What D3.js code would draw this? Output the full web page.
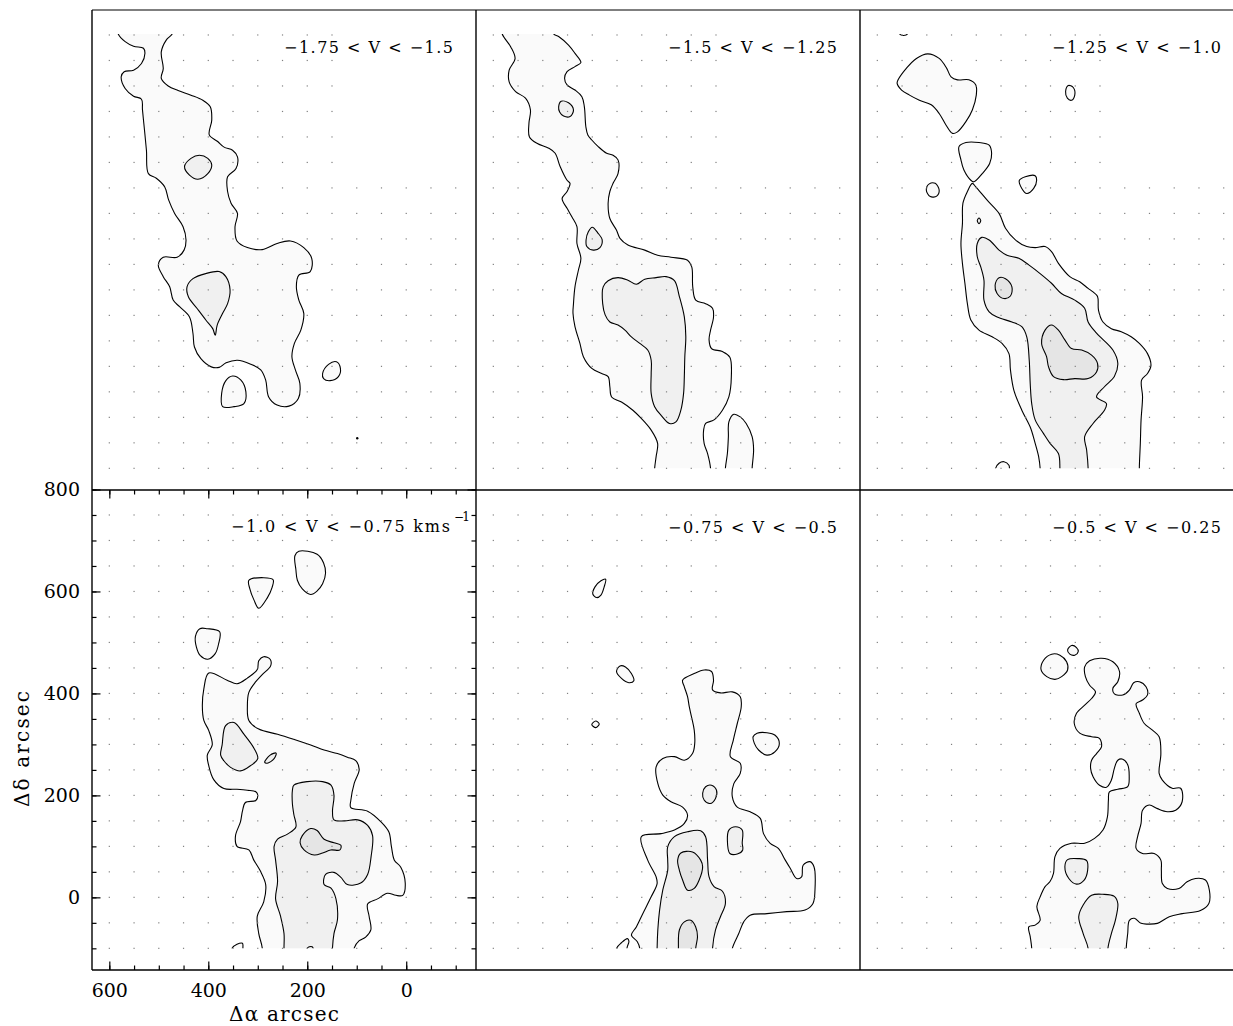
<!DOCTYPE html>
<html>
<head>
<meta charset="utf-8">
<script src="https://cdn.jsdelivr.net/npm/d3@7"></script>
<style>
body { margin: 0; background: #fff; }
svg { display: block; }
text { font-family: "DejaVu Serif", serif; fill: #000; }
</style>
</head>
<body>
<svg id="chart" width="1233" height="1026"></svg>
<script>
// velocity channels, one panel each (km/s)
const velocityBins = ["−1.75 < V < −1.5", "−1.5 < V < −1.25", "−1.25 < V < −1.0",
                      "−1.0 < V < −0.75 kms", "−0.75 < V < −0.5", "−0.5 < V < −0.25"];

// axis ticks (arcsec)
const raMajor = [600, 400, 200, 0];
const raMinor = [600, 550, 500, 450, 400, 350, 300, 250, 200, 150, 100, 50, 0, -50, -100];
const decMajor = [800, 600, 400, 200, 0];
const decMinor = [800, 750, 700, 650, 600, 550, 500, 450, 400, 350, 300, 250, 200, 150, 100, 50, 0, -50, -100];

// observed positions (sampling grid)
const gridDecNorth = [750, 700, 650, 600, 550, 500];
const gridRaNorth = [600, 550, 500, 450, 400, 350, 300, 250, 200, 150];
const gridDecSouth = [450, 400, 350, 300, 250, 200, 150, 100, 50, 0, -50, -100];
const gridRaSouth = [600, 550, 500, 450, 400, 350, 300, 250, 200, 150, 100, 50, 0, -50, -100];

// contour rings [dRA, dDec] per panel; level 1 = lowest
const panel1 = [
  {level: 1, ring: [[585,775],[582,752],[568,737],[551,728],[531,724],[528,714],[535,694],[551,681],[570,678],[576,668],[568,645],[551,630],[535,624],[533,603],[529,564],[525,524],[521,478],[505,469],[488,452],[480,426],[468,400],[451,374],[445,348],[449,328],[463,314],[491,314],[501,299],[491,276],[478,256],[471,230],[458,217],[438,197],[431,165],[428,138],[415,115],[394,99],[378,98],[364,107],[341,112],[314,104],[294,93],[284,73],[278,40],[261,24],[237,22],[218,37],[215,67],[224,93],[231,119],[226,145],[213,171],[207,204],[217,230],[222,256],[217,279],[194,286],[191,312],[207,333],[234,346],[261,341],[291,329],[321,333],[342,346],[346,374],[341,400],[354,420],[361,443],[361,472],[344,488],[341,511],[351,524],[368,530],[381,541],[398,554],[393,583],[396,609],[411,622],[435,632],[461,641],[481,650],[495,665],[491,684],[495,717],[485,740],[473,752],[468,775]]},
  {level: 1, ring: [[373,47],[364.5,72],[351,81],[334,73],[324,50],[328,27],[348,21],[371,21]]},
  {level: 1, ring: [[169,86],[157,104],[141,109],[133,96],[137,80],[154,72],[167,76]]},
  {level: 2, ring: [[448,492],[435,508],[418,514],[401,508],[393,495],[401,478],[421,467],[438,475]]},
  {level: 2, ring: [[443,256],[431,272],[405,282],[378,286],[364.5,276],[356,250],[361,223],[371,204],[382,181],[386,161],[391,174],[405,191],[423,214],[440,236]]}
];
const panel2 = [
  {level: 1, ring: [[585,775],[582,752],[565,727],[556,704],[568,681],[568,658],[555,639],[535,626],[525,603],[528,577],[527,550],[511,537],[488,528],[475,518],[465,492],[451,465],[445,459],[451,443],[461,429],[451,410],[441,393],[431,374],[431,341],[423,312],[428,289],[435,256],[438,223],[439,204],[435,178],[425,145],[418,119],[401,96],[381,86],[368,80],[364.5,60],[361,40],[341,30],[318,14],[301,-2],[281,-25],[268,-51],[271,-77],[274,-100],[275,-130],[161,-130],[161,-100],[167,-71],[174,-51],[175,-25],[171,-12],[154,-5],[137,14],[124,40],[119,80],[122,118],[137,129],[159,135],[164,152],[161,171],[155,197],[157,214],[171,223],[191,230],[197,256],[199,295],[207.5,308],[241,314],[268,318],[294,328],[328,338],[344,351],[351,367],[364.5,390],[368,420],[364.5,443],[358,459],[348,478],[348,505],[358,514],[371,518],[388,531],[401,544],[409,554],[413,570],[416,609],[421,629],[435,642],[451,652],[456,665],[451,678],[435,688],[423,696],[435,714],[448,730],[468,747],[478,752],[481,775]]},
  {level: 1, ring: [[131,-100],[127,-71],[125,-38],[124,-9],[114,6],[101,1],[89,-12],[77,-38],[74,-64],[77,-100],[77,-130],[131,-130]]},
  {level: 2, ring: [[468,609],[463,620],[448,617],[438,603],[445,590],[458,591],[466,599]]},
  {level: 2, ring: [[412.6,348],[408,364],[400,373],[389,362],[380,348],[384.5,333],[398,328],[411,335]]},
  {level: 2, ring: [[378,256],[368,268],[348,274],[328,269],[311,261],[294,271],[271,274],[251,276],[234,268],[224,237],[214,197],[211,158],[213,119],[214,80],[215.5,47],[221,14],[231,-9],[244,-12],[261,4],[274,21],[281,47],[281,86],[281,112],[288,132],[304,145],[321,158],[334,171],[348,181],[364.5,187],[374,201],[379,223]]}
];
const panel3 = [
  {level: 1, ring: [[558,770],[555,752],[547,749],[538,753],[536,770]]},
  {level: 1, ring: [[558,662],[541,685],[521,704],[498,713],[475,704],[460,685],[451,668],[438,662],[415,662],[401,652],[400,632],[408,603],[421,580],[438,560],[448,557],[461,573],[475,596],[491,613],[515,622],[535,632],[551,642],[560,655]]},
  {level: 1, ring: [[219.5,639],[214,651],[204,647],[201,632],[207.5,622],[216,626]]},
  {level: 1, ring: [[435,531],[421,539],[394.5,539],[374,534],[369,518],[373,498],[388,478],[405,462],[411,465],[425,485],[431,505]]},
  {level: 1, ring: [[501,446],[495,458],[483,459],[475,446],[480,434],[493,433]]},
  {level: 1, ring: [[313,465],[301,472],[281,474],[278,465],[284,449],[298,439],[308,449]]},
  {level: 1, ring: [[408,459],[418,443],[427,420],[428,380],[431,341],[428,302],[423,263],[418,223],[411,191],[394.5,171],[368,158],[348,145],[334,125],[331,93],[324,53],[308,14],[291,-19],[281,-51],[274,-77],[271,-100],[271,-130],[70,-130],[70.5,-100],[68.5,-51],[67,-5],[64,40],[66,73],[54,86],[47,102],[54,125],[70.5,145],[87,158],[107,168],[127,174],[144,187],[153,210],[155,237],[164,246],[174,253],[191,266],[211,276],[234,302],[248,325],[261,335],[281,333],[298,335],[321,348],[341,371],[354,400],[378,426],[401,452]]},
  {level: 1, ring: [[361,-100],[354,-90],[344,-87],[334,-94],[333,-100],[333,-130],[361,-130]]},
  {level: 2, ring: [[398,386],[394.5,391],[391,386],[394.5,380]]},
  {level: 2, ring: [[398,341],[389,353],[374,348],[354,328],[338,318],[314,312],[294,299],[271,282],[248,263],[228,243],[201,230],[181,214],[174,187],[157,165],[124,132],[114,106],[121,80],[141,60],[157,40],[137,27],[141,14],[164,-12],[181,-38],[177,-64],[174,-100],[174,-130],[231,-130],[231,-100],[234,-71],[251,-51],[264,-32],[281,-5],[288,27],[291,66],[293,112],[298,158],[308,178],[328,187],[358,197],[374,207],[384.5,230],[384.5,269],[391,295],[398,315]]},
  {level: 3, ring: [[362,259],[354,274],[341,272],[328,256],[331,238],[344,233],[358,243]]},
  {level: 3, ring: [[268,145],[261,171],[248,181],[234,171],[221,152],[207.5,135],[187,132],[167,122],[155,106],[157,89],[174,76],[201,76],[224,74],[244,80],[254,99],[258,119]]}
];
const panel4 = [
  {level: 1, ring: [[225,670],[217,679],[180,673],[167,656],[163,636],[169,615],[180,601],[193,594],[210,605],[220,622],[223,643]]},
  {level: 1, ring: [[318,622],[288,627],[269,623],[271,608],[281,587],[298,567],[308,584],[316,605]]},
  {level: 1, ring: [[426,512],[417,527],[402,527],[377,521],[379,498],[386,478],[401,467],[416,474],[424,491]]},
  {level: 1, ring: [[399,440],[362,426],[342,419],[321,430],[301,447],[298,464],[288,472],[275,467],[274,454],[291,437],[304,423],[318,402],[321,375],[318,347],[298,330],[260,320],[227,310],[193,299],[166,289],[139,282],[119,275],[102,268],[95,251],[105,224],[112,190],[112,176],[78,169],[51,148],[35,128],[30,100],[24,73],[11,59],[2,28],[7,4],[21,4],[38,8],[58,-3],[78,-13],[75,-37],[71.5,-64],[82,-78],[95,-85],[105,-99],[108,-130],[291,-130],[291,-99],[298,-71],[301,-37],[288,-9],[284,25],[295,52],[308,73],[318,93],[342,100],[345,121],[335,148],[331,169],[325,186],[304,190],[300,200],[304,207],[321,210],[342,212],[368.5,213.5],[389,231],[399,258],[402,279],[392,299],[399,327],[409,347],[412,375],[409,409]]},
  {level: 1, ring: [[352,-100],[342,-92],[331,-90],[330,-100],[330,-130],[352,-130]]},
  {level: 2, ring: [[372,299],[365,337],[348,343],[328,320],[308,293],[300,272],[315,258],[335,248],[355,255],[368.5,268],[375,279]]},
  {level: 2, ring: [[286,265],[275,279],[263,283],[267,272],[281,263]]},
  {level: 2, ring: [[230,210],[227,220],[200,227],[169,227],[152,220],[146,200],[149,169],[146,152],[125,150],[98,152],[78,141],[68,121],[71,80],[78,45],[92,28],[119,25],[132,39],[146,49],[163,45],[166,25],[152,18],[142,-3],[139,-44],[146,-71],[149,-99],[149,-130],[247,-130],[247,-99],[247,-71],[254,-37],[264,-3],[260,31],[264,73],[267,100],[260,114],[240,124],[223,138],[227,162],[230,183]]},
  {level: 3, ring: [[214.5,107],[210,121],[193,135],[180,131],[166,114],[146,107],[132,102],[134,93],[152.5,93],[169,87],[186,83],[206.5,93]]},
  {level: 3, ring: [[200,-100],[196,-97],[190,-97],[188,-100],[188,-130],[200,-130]]}
];
const panel5 = [
  {level: 1, ring: [[399,595],[394.5,609],[382.5,621],[373,624],[376,609],[382.5,593],[391,588]]},
  {level: 1, ring: [[351,443],[344,454],[333,452],[321,439],[316,425],[326,421],[341,429.5]]},
  {level: 1, ring: [[401,339],[393,346],[386,340],[393,333]]},
  {level: 1, ring: [[75,315],[67,322],[47,323],[30.5,318],[22,302],[30.5,286],[47,279],[64,289],[72.5,302]]},
  {level: 1, ring: [[217.5,426],[194,439],[174,446],[159,443],[155,426],[157,407],[141,401],[117,403],[101,393.5],[99,374],[107,341],[115,308.5],[121,276],[101,263],[101,243],[114,223],[117,197],[107,177],[81,168],[60.5,155],[54,125],[40.5,106],[24,96],[10,73],[0,57],[-13,37],[-23,40],[-26,63],[-40,70],[-48,60],[-50,14],[-46,-12],[-30,-25],[7,-28],[47,-32],[81,-35],[94,-48],[104,-71],[117,-100],[120,-130],[304,-130],[304,-100],[309,-87],[321,-74],[311,-58],[298,-32],[281,1],[269,27],[271,40],[288,73],[301,119],[261,125],[234,132],[214,145],[207.5,161],[217.5,177],[241,187.5],[257.5,200.6],[267.5,223],[271,256],[257.5,272.5],[234,276],[214,269],[197.5,282],[193,302],[194,328],[199.5,354],[204,374],[207.5,393.5],[214,413]]},
  {level: 1, ring: [[351,-100],[341,-89],[329,-81],[326,-86],[330,-100],[330,-130],[351,-130]]},
  {level: 2, ring: [[177,204],[171,217],[159,220],[149,210],[151,194],[162,184],[174,191]]},
  {level: 2, ring: [[127,112],[124,132],[110.6,138.5],[97,132],[97,106],[96,93],[107,85],[122,86]]},
  {level: 2, ring: [[247.6,99],[234,119],[207.5,128.6],[181,130.6],[171,119],[167,73],[164,40],[154,21],[137,12],[131,-12],[141,-38],[151,-64],[157,-100],[157,-130],[269,-130],[269,-100],[267.6,-64],[264,-25],[257.6,14],[247.6,53],[247.6,73]]},
  {level: 3, ring: [[227.5,73],[221,87],[197.5,89],[181,73],[177,60],[184,34],[194,17.5],[207.5,14],[217.5,34],[224,53]]},
  {level: 3, ring: [[226,-100],[224,-64],[214,-48],[201,-45],[191,-58],[187.4,-77],[191,-100],[191,-130],[226,-130]]}
];
const panel6 = [
  {level: 1, ring: [[215.5,485],[207.5,494],[197.5,490],[194,482],[201,475],[211,477]]},
  {level: 1, ring: [[269,446],[264,465],[247.6,477],[231,475],[217.5,462],[215.5,446],[227.5,433],[241,427.5],[257.6,433]]},
  {level: 1, ring: [[181,452],[171,464],[147,469],[124,462],[110.6,443],[114,423],[124,410],[121,399],[104,397],[90.6,406.6],[82,421],[70.5,423],[57,413],[54,397],[64,387],[77,380],[70.5,361],[60.5,341],[44,328],[30.5,315],[27,282],[30.5,243],[24,230],[4,214],[-13,214],[-16,187.5],[-3,171],[14,168],[34,174],[50.5,181],[64,171],[67,145],[74,119],[77,96],[64,86],[40.5,86],[27,73],[26,53],[24,27],[14,17.5],[-9.6,17.5],[-26,30.5],[-43,37],[-63,34],[-71,14],[-70,-12],[-53,-26],[-16,-32],[10,-38],[34,-51],[54,-52.5],[67,-51],[80.6,-41],[90.6,-45],[94,-71],[97,-100],[97,-130],[288,-130],[288,-100],[291,-77],[294,-58],[281,-54.5],[271,-45],[277.6,-18],[271,1],[261,21],[251,31],[244,47],[241,80],[231,96],[207.5,106],[181,106],[161,115.6],[144,132],[135,158],[133,191],[131,207],[114,212],[94,217],[91,237],[94,260],[104,271],[114,269],[121,253],[127,230],[137,216],[151,220],[164,236.6],[169,253],[167,269],[157,282],[147,295],[151,312],[167,315],[191,322],[202,341],[197.5,361],[181,377],[167,390],[159,403],[171,416],[179.5,433]]},
  {level: 2, ring: [[221,60],[215.5,74],[194,76],[177,72],[175,53],[182,34],[197.5,26],[213,37]]},
  {level: 2, ring: [[193,-38],[184,-15],[167,4],[144,6],[121,2],[114,-12],[119,-45],[127,-71],[134,-100],[134,-130],[174,-130],[174,-100],[184,-71]]}
];
const panels = [panel1, panel2, panel3, panel4, panel5, panel6];
// isolated single-pixel peaks
const specks = [[[99, -41]], [], [], [], [], []];

// ---- layout
const svg = d3.select("#chart");
const marginLeft = 92, marginTop = 10, pw = 384, ph = 480;
const fills = {1: "#fafafa", 2: "#f0f0f0", 3: "#e5e5e5"};

const x = d3.scaleLinear().domain([635, -141]).range([0, pw]);
const y = d3.scaleLinear().domain([-142.5, 799]).range([ph, 0]);
const ringPath = d3.line().x(d => x(d[0])).y(d => y(d[1])).curve(d3.curveCatmullRomClosed.alpha(0.5));

// map limits: nothing was observed north of +752 or south of -100
svg.append("defs").append("clipPath").attr("id", "mapclip")
  .append("rect")
  .attr("x", x(620)).attr("y", y(752))
  .attr("width", x(-130) - x(620)).attr("height", y(-100) - y(752));

const dots = [];
gridDecNorth.forEach(dd => gridRaNorth.forEach(ra => dots.push([ra, dd])));
gridDecSouth.forEach(dd => gridRaSouth.forEach(ra => dots.push([ra, dd])));

panels.forEach((contours, i) => {
  const col = i % 3, row = Math.floor(i / 3);
  const g = svg.append("g").attr("transform", `translate(${marginLeft + col * pw},${marginTop + row * ph})`);

  const cg = g.append("g").attr("clip-path", "url(#mapclip)");
  cg.selectAll("path")
    .data(contours.slice().sort((a, b) => a.level - b.level))
    .join("path")
    .attr("d", d => ringPath(d.ring))
    .attr("fill", d => fills[d.level])
    .attr("stroke", "#000")
    .attr("stroke-width", 1.1);

  g.selectAll("rect.dot").data(dots).join("rect")
    .attr("class", "dot")
    .attr("x", d => x(d[0]) - 0.6).attr("y", d => y(d[1]) - 0.6)
    .attr("width", 1.2).attr("height", 1.2)
    .attr("fill", "#808080");

  g.selectAll("circle.speck").data(specks[i]).join("circle")
    .attr("class", "speck")
    .attr("cx", d => x(d[0])).attr("cy", d => y(d[1]))
    .attr("r", 1.2).attr("fill", "#000");

  if (i === 3) {
    g.append("text").attr("x", 358).attr("y", 42).attr("text-anchor", "end")
      .attr("font-size", 16).attr("textLength", 219).attr("lengthAdjust", "spacing")
      .text(velocityBins[i]);
    g.append("text").attr("x", 362).attr("y", 31).attr("font-size", 12)
      .attr("textLength", 16).attr("lengthAdjust", "spacing").text("−1");
  } else {
    g.append("text").attr("x", 361).attr("y", 42.5).attr("text-anchor", "end")
      .attr("font-size", 16).attr("textLength", 169).attr("lengthAdjust", "spacing")
      .text(velocityBins[i]);
  }
});

// ---- axes on the lower-left panel
const ax = svg.append("g").attr("transform", `translate(${marginLeft},${marginTop + ph})`);
function tickAxis(axis, tr, size, values, pad) {
  const a = axis.tickValues(values).tickSizeInner(size).tickSizeOuter(0);
  if (pad) a.tickPadding(pad).tickFormat(d3.format("d"));
  else a.tickFormat("");
  const gg = ax.append("g").attr("transform", tr).call(a);
  gg.select(".domain").remove();
  gg.selectAll("line").attr("stroke", "#000").attr("stroke-width", 1.2);
  gg.selectAll("text").attr("font-size", 19).attr("font-family", "DejaVu Serif, serif").attr("fill", "#000");
}
tickAxis(d3.axisBottom(x), `translate(0,${ph})`, -4.5, raMinor, 0);
tickAxis(d3.axisBottom(x), `translate(0,${ph})`, -8.5, raMajor, 14);
tickAxis(d3.axisTop(x), "translate(0,0)", -4.5, raMinor, 0);
tickAxis(d3.axisTop(x), "translate(0,0)", -8.5, raMajor, 0);
tickAxis(d3.axisLeft(y), "translate(0,0)", -4.5, decMinor, 0);
tickAxis(d3.axisLeft(y), "translate(0,0)", -8.5, decMajor, 12);
tickAxis(d3.axisRight(y), `translate(${pw},0)`, -4.5, decMinor, 0);
tickAxis(d3.axisRight(y), `translate(${pw},0)`, -8.5, decMajor, 0);

// axis titles
svg.append("text").attr("x", 284).attr("y", 1021).attr("text-anchor", "middle")
  .attr("font-size", 20).attr("textLength", 110).attr("lengthAdjust", "spacing")
  .text("Δα arcsec");
svg.append("text").attr("transform", "translate(29,749) rotate(-90)").attr("text-anchor", "middle")
  .attr("font-size", 20).attr("textLength", 116).attr("lengthAdjust", "spacing")
  .text("Δδ arcsec");

// ---- panel frames
const frame = svg.append("g").attr("stroke", "#000").attr("stroke-width", 1.4).attr("fill", "none");
frame.append("line").attr("x1", marginLeft).attr("x2", 1233).attr("y1", marginTop).attr("y2", marginTop).attr("stroke", "#555");
frame.append("line").attr("x1", marginLeft).attr("x2", 1233).attr("y1", marginTop + ph).attr("y2", marginTop + ph);
frame.append("line").attr("x1", marginLeft).attr("x2", 1233).attr("y1", marginTop + 2 * ph).attr("y2", marginTop + 2 * ph);
[0, 1, 2].forEach(c => {
  frame.append("line").attr("x1", marginLeft + c * pw).attr("x2", marginLeft + c * pw)
    .attr("y1", marginTop).attr("y2", marginTop + 2 * ph);
});
</script>
</body>
</html>
